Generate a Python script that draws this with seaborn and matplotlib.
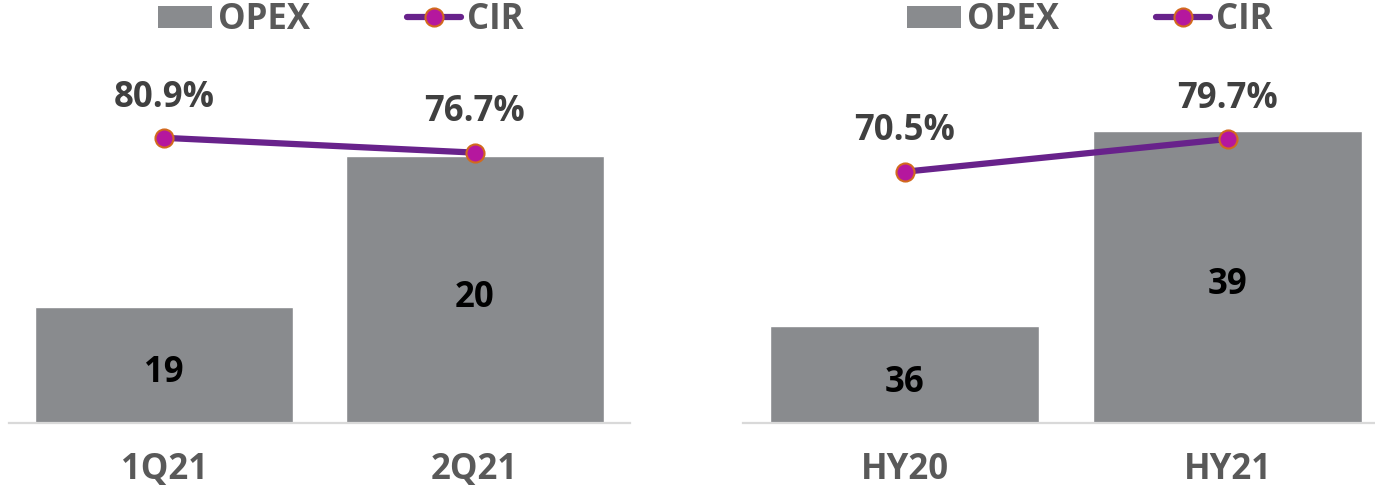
import numpy as np
import pandas as pd
import matplotlib
matplotlib.use("Agg")
import matplotlib.pyplot as plt
from matplotlib.lines import Line2D
from matplotlib.patches import Patch
import seaborn as sns

# Quarterly view
q_periods = ["1Q21", "2Q21"]
q_opex = [19, 20]
q_cir = [80.9, 76.7]

# Half-year view
h_periods = ["HY20", "HY21"]
h_opex = [36, 39]
h_cir = [70.5, 79.7]

BAR_COLOR = "#898B8E"
LINE_COLOR = "#68228B"
MARKER_FACE = "#B5179E"
MARKER_EDGE = "#D2691E"
LABEL_COLOR = "#404040"
AXIS_TEXT = "#595959"
FS = 25

sns.set_theme(style="white")
plt.rcParams["font.family"] = ["Open Sans", "DejaVu Sans"]

W, H = 1375, 492
fig = plt.figure(figsize=(W / 100, H / 100), dpi=100)


def panel(left_px, width_px, periods, opex, cir, opex_lim, cir_lim, legend_cx):
    bottom_px = 423
    ax = fig.add_axes([left_px / W, (H - bottom_px) / H, width_px / W, bottom_px / H])
    df = pd.DataFrame({"period": periods, "opex": opex})
    sns.barplot(data=df, x="period", y="opex", order=periods, color=BAR_COLOR,
                saturation=1, width=0.83, ax=ax, zorder=2)
    ax.set_xlim(-0.5, len(periods) - 0.5)
    ax.set_ylim(*opex_lim)
    ax.set_xlabel("")
    ax.set_ylabel("")
    ax.set_yticks([])
    for s in ["top", "left", "right"]:
        ax.spines[s].set_visible(False)
    ax.spines["bottom"].set_color("#D9D9D9")
    ax.spines["bottom"].set_linewidth(1.6)
    ax.tick_params(axis="x", length=0, pad=21, labelsize=FS, labelcolor=AXIS_TEXT)
    for t in ax.get_xticklabels():
        t.set_fontweight("bold")
    for i, v in enumerate(opex):
        ax.annotate(f"{v}", (i, (opex_lim[0] + v) / 2), xytext=(0, -6),
                    textcoords="offset points", ha="center", va="center",
                    fontsize=FS, fontweight="bold", color="black", zorder=5)

    ax2 = ax.twinx()
    x = np.arange(len(periods))
    sns.lineplot(x=x, y=cir, ax=ax2, color=LINE_COLOR, linewidth=4.5,
                 marker="o", markersize=13, markerfacecolor=MARKER_FACE,
                 markeredgecolor=MARKER_EDGE, markeredgewidth=1.5, zorder=4)
    ax2.set_ylim(*cir_lim)
    ax2.set_yticks([])
    ax2.set_ylabel("")
    for s in ["top", "left", "right", "bottom"]:
        ax2.spines[s].set_visible(False)
    for i, v in enumerate(cir):
        ax2.annotate(f"{v:.1f}%", (i, v), xytext=(0, 29), textcoords="offset points",
                     ha="center", va="center", fontsize=FS, fontweight="bold",
                     color=LABEL_COLOR)

    handles = [
        Patch(facecolor=BAR_COLOR, edgecolor="none"),
        Line2D([0], [0], color=LINE_COLOR, linewidth=4.5, marker="o", markersize=13,
               markerfacecolor=MARKER_FACE, markeredgecolor=MARKER_EDGE,
               markeredgewidth=1.5),
    ]
    leg = fig.legend(handles, ["OPEX", "CIR"], loc="center",
                     bbox_to_anchor=(legend_cx / W, 1 - 20 / H), ncol=2,
                     frameon=False, handlelength=1.55, handleheight=0.6,
                     handletextpad=0.17, columnspacing=2.8,
                     prop={"weight": "bold", "size": FS})
    for t in leg.get_texts():
        t.set_color(AXIS_TEXT)
    return ax


panel(9, 621, q_periods, q_opex, q_cir, (18.232, 21.033), (0, 120), 341)
panel(743, 646, h_periods, h_opex, h_cir, (34.508, 41.016), (0, 118.7), 1090)

fig.savefig("out.png", dpi=100)
